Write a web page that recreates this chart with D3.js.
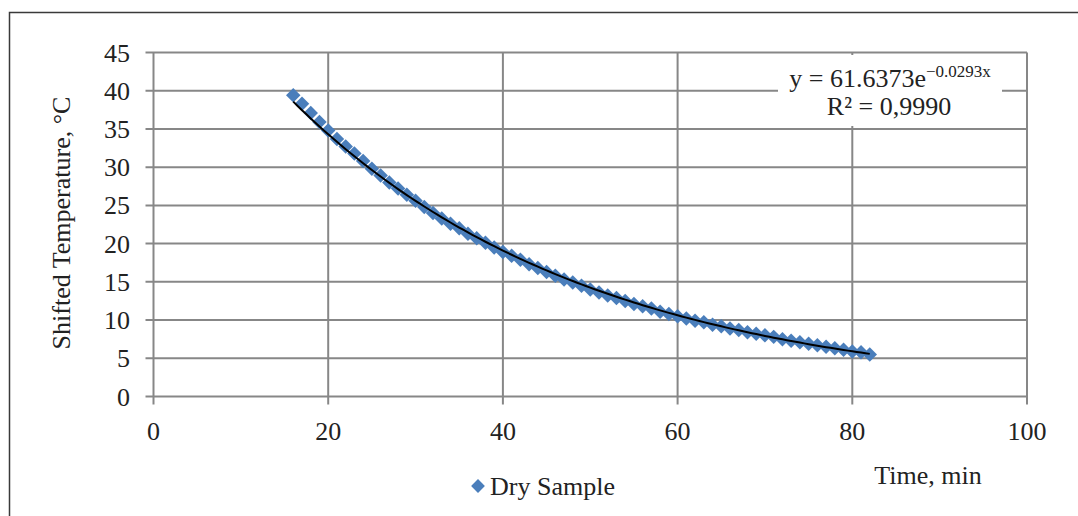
<!DOCTYPE html>
<html>
<head>
<meta charset="utf-8">
<script src="https://cdn.jsdelivr.net/npm/d3@7"></script>
<style>
    body { margin: 0; background: white; }
    text { font-family: 'Liberation Serif', 'Times New Roman', serif; fill: #222; }
</style>
</head>
<body>
<script>
var time = [16, 17, 18, 19, 20, 21, 22, 23, 24, 25, 26, 27, 28, 29, 30, 31, 32, 33, 34, 35,
    36, 37, 38, 39, 40, 41, 42, 43, 44, 45, 46, 47, 48, 49, 50, 51, 52, 53, 54, 55,
    56, 57, 58, 59, 60, 61, 62, 63, 64, 65, 66, 67, 68, 69, 70, 71, 72, 73, 74, 75,
    76, 77, 78, 79, 80, 81, 82];
var temp = [39.4, 38.3, 37.1, 35.9, 34.8, 33.7, 32.7, 31.8, 30.8, 29.8, 28.9, 28.0, 27.2, 26.4, 25.6, 24.8, 24.0, 23.3, 22.6, 22.0,
    21.3, 20.7, 20.1, 19.5, 18.9, 18.4, 17.9, 17.3, 16.8, 16.3, 15.8, 15.3, 14.9, 14.5, 14.0, 13.6, 13.2, 12.9, 12.5, 12.1,
    11.8, 11.5, 11.1, 10.8, 10.5, 10.2, 9.9, 9.7, 9.4, 9.2, 8.9, 8.7, 8.4, 8.2, 8.0, 7.8, 7.5, 7.3, 7.1, 6.9,
    6.7, 6.5, 6.3, 6.1, 5.9, 5.8, 5.5];

var xTicks = [0, 20, 40, 60, 80, 100];
var yTicks = [0, 5, 10, 15, 20, 25, 30, 35, 40, 45];

// trend line y = a * e^(k x), as printed on the chart
var fitA = 61.6373;
var fitK = -0.0293;

var W = 1078, H = 516;

var svg = d3.select('body').append('svg')
    .attr('width', W)
    .attr('height', H);

var x = d3.scaleLinear().domain([0, 100]).range([153.5, 1027]);
var y = d3.scaleLinear().domain([0, 45]).range([396.5, 52.5]);

// outer frame
svg.append('rect')
    .attr('x', 9.5)
    .attr('y', 12.5)
    .attr('width', W)
    .attr('height', H)
    .style('fill', 'none')
    .style('stroke', '#3a3a3a')
    .style('stroke-width', 1.5);

var grid = svg.append('g');

grid.selectAll('.hgrid')
    .data(yTicks)
    .enter().append('line')
    .attr('x1', x(0) - 8)
    .attr('x2', x(100))
    .attr('y1', function(d) { return y(d); })
    .attr('y2', function(d) { return y(d); })
    .style('stroke', '#878787')
    .style('stroke-width', 2);

grid.selectAll('.vgrid')
    .data(xTicks)
    .enter().append('line')
    .attr('x1', function(d) { return x(d); })
    .attr('x2', function(d) { return x(d); })
    .attr('y1', y(45))
    .attr('y2', y(0) + 8)
    .style('stroke', '#878787')
    .style('stroke-width', 2);

// tick labels
svg.selectAll('.ylab')
    .data(yTicks)
    .enter().append('text')
    .attr('x', 130)
    .attr('y', function(d) { return y(d) + 9; })
    .attr('text-anchor', 'end')
    .style('font-size', '26px')
    .text(function(d) { return d; });

svg.selectAll('.xlab')
    .data(xTicks)
    .enter().append('text')
    .attr('x', function(d) { return x(d); })
    .attr('y', 440)
    .attr('text-anchor', 'middle')
    .style('font-size', '26px')
    .text(function(d) { return d; });

// axis titles
svg.append('text')
    .attr('transform', 'translate(70,223) rotate(-90)')
    .attr('text-anchor', 'middle')
    .style('font-size', '26px')
    .text('Shifted Temperature, °C');

svg.append('text')
    .attr('x', 928)
    .attr('y', 484)
    .attr('text-anchor', 'middle')
    .style('font-size', '26px')
    .text('Time, min');

// data points
var diamond = d3.symbol().type(d3.symbolSquare).size(105);
svg.selectAll('.pt')
    .data(time)
    .enter().append('path')
    .attr('d', diamond)
    .attr('transform', function(d, i) {
        return 'translate(' + x(d) + ',' + y(temp[i]) + ') rotate(45)';
    })
    .style('fill', '#4a7ebb');

// exponential trend line
var fitX = d3.range(time[0], time[time.length - 1] + 0.01, 0.5);
var line = d3.line()
    .x(function(d) { return x(d); })
    .y(function(d) { return y(fitA * Math.exp(fitK * d)); });
svg.append('path')
    .datum(fitX)
    .attr('d', line)
    .style('fill', 'none')
    .style('stroke', 'black')
    .style('stroke-width', 2);

// equation label
svg.append('rect')
    .attr('x', 778)
    .attr('y', 55)
    .attr('width', 224)
    .attr('height', 71)
    .style('fill', 'white');

var eq = svg.append('text')
    .attr('x', 890)
    .attr('y', 87)
    .attr('text-anchor', 'middle')
    .style('font-size', '26px');
eq.append('tspan').text('y = 61.6373e');
eq.append('tspan')
    .attr('dy', -10)
    .style('font-size', '17px')
    .text('\u22120.0293x');

svg.append('text')
    .attr('x', 889)
    .attr('y', 115)
    .attr('text-anchor', 'middle')
    .style('font-size', '26px')
    .text('R\u00b2 = 0,9990');

// legend
svg.append('path')
    .attr('d', d3.symbol().type(d3.symbolSquare).size(95))
    .attr('transform', 'translate(478,486) rotate(45)')
    .style('fill', '#4a7ebb');

svg.append('text')
    .attr('x', 490)
    .attr('y', 495)
    .style('font-size', '26px')
    .text('Dry Sample');
</script>
</body>
</html>
